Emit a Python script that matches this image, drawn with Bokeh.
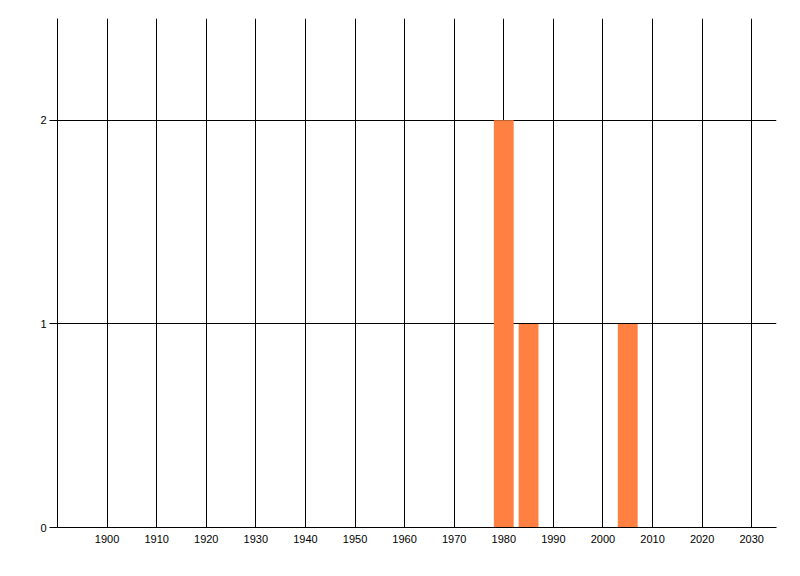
from bokeh.plotting import figure
from bokeh.models import ColumnDataSource, FixedTicker, Range1d
from bokeh.embed import file_html
from bokeh.resources import INLINE

years = [1980, 1985, 2005]
counts = [2, 1, 1]
x_ticks = [1900, 1910, 1920, 1930, 1940, 1950, 1960, 1970, 1980, 1990, 2000, 2010, 2020, 2030]
y_ticks = [0, 1, 2]

src = ColumnDataSource(dict(x=years, top=counts))

p = figure(width=792, height=568, output_backend="svg", toolbar_location=None,
           x_range=Range1d(1890, 2035), y_range=Range1d(0, 2.5),
           min_border_left=57, min_border_top=18, min_border_right=16, min_border_bottom=41)
p.outline_line_color = None
p.background_fill_color = "white"

p.vbar(x="x", top="top", width=4, bottom=0, source=src, fill_color="#FF8040", line_color=None)

p.xaxis.ticker = FixedTicker(ticks=x_ticks)
p.yaxis.ticker = FixedTicker(ticks=y_ticks)
p.xaxis.minor_tick_line_color = None
p.yaxis.minor_tick_line_color = None
p.xaxis.major_tick_out = 0
p.xaxis.major_tick_in = 0
p.yaxis.major_tick_out = 8
p.yaxis.major_tick_in = 0
for ax in (p.xaxis, p.yaxis):
    ax.axis_line_color = "black"
    ax.axis_line_width = 1
    ax.major_tick_line_color = "black"
    ax.major_label_text_font = "Liberation Sans"
    ax.major_label_text_font_size = "11px"
    ax.major_label_text_color = "black"
p.xaxis.major_label_standoff = 7
p.yaxis.major_label_standoff = 3

p.xgrid.ticker = FixedTicker(ticks=x_ticks)
p.ygrid.ticker = FixedTicker(ticks=y_ticks)
p.grid.grid_line_color = "black"
p.grid.grid_line_alpha = 1.0
p.grid.grid_line_width = 1

open("out.html", "w").write(file_html(p, INLINE))
